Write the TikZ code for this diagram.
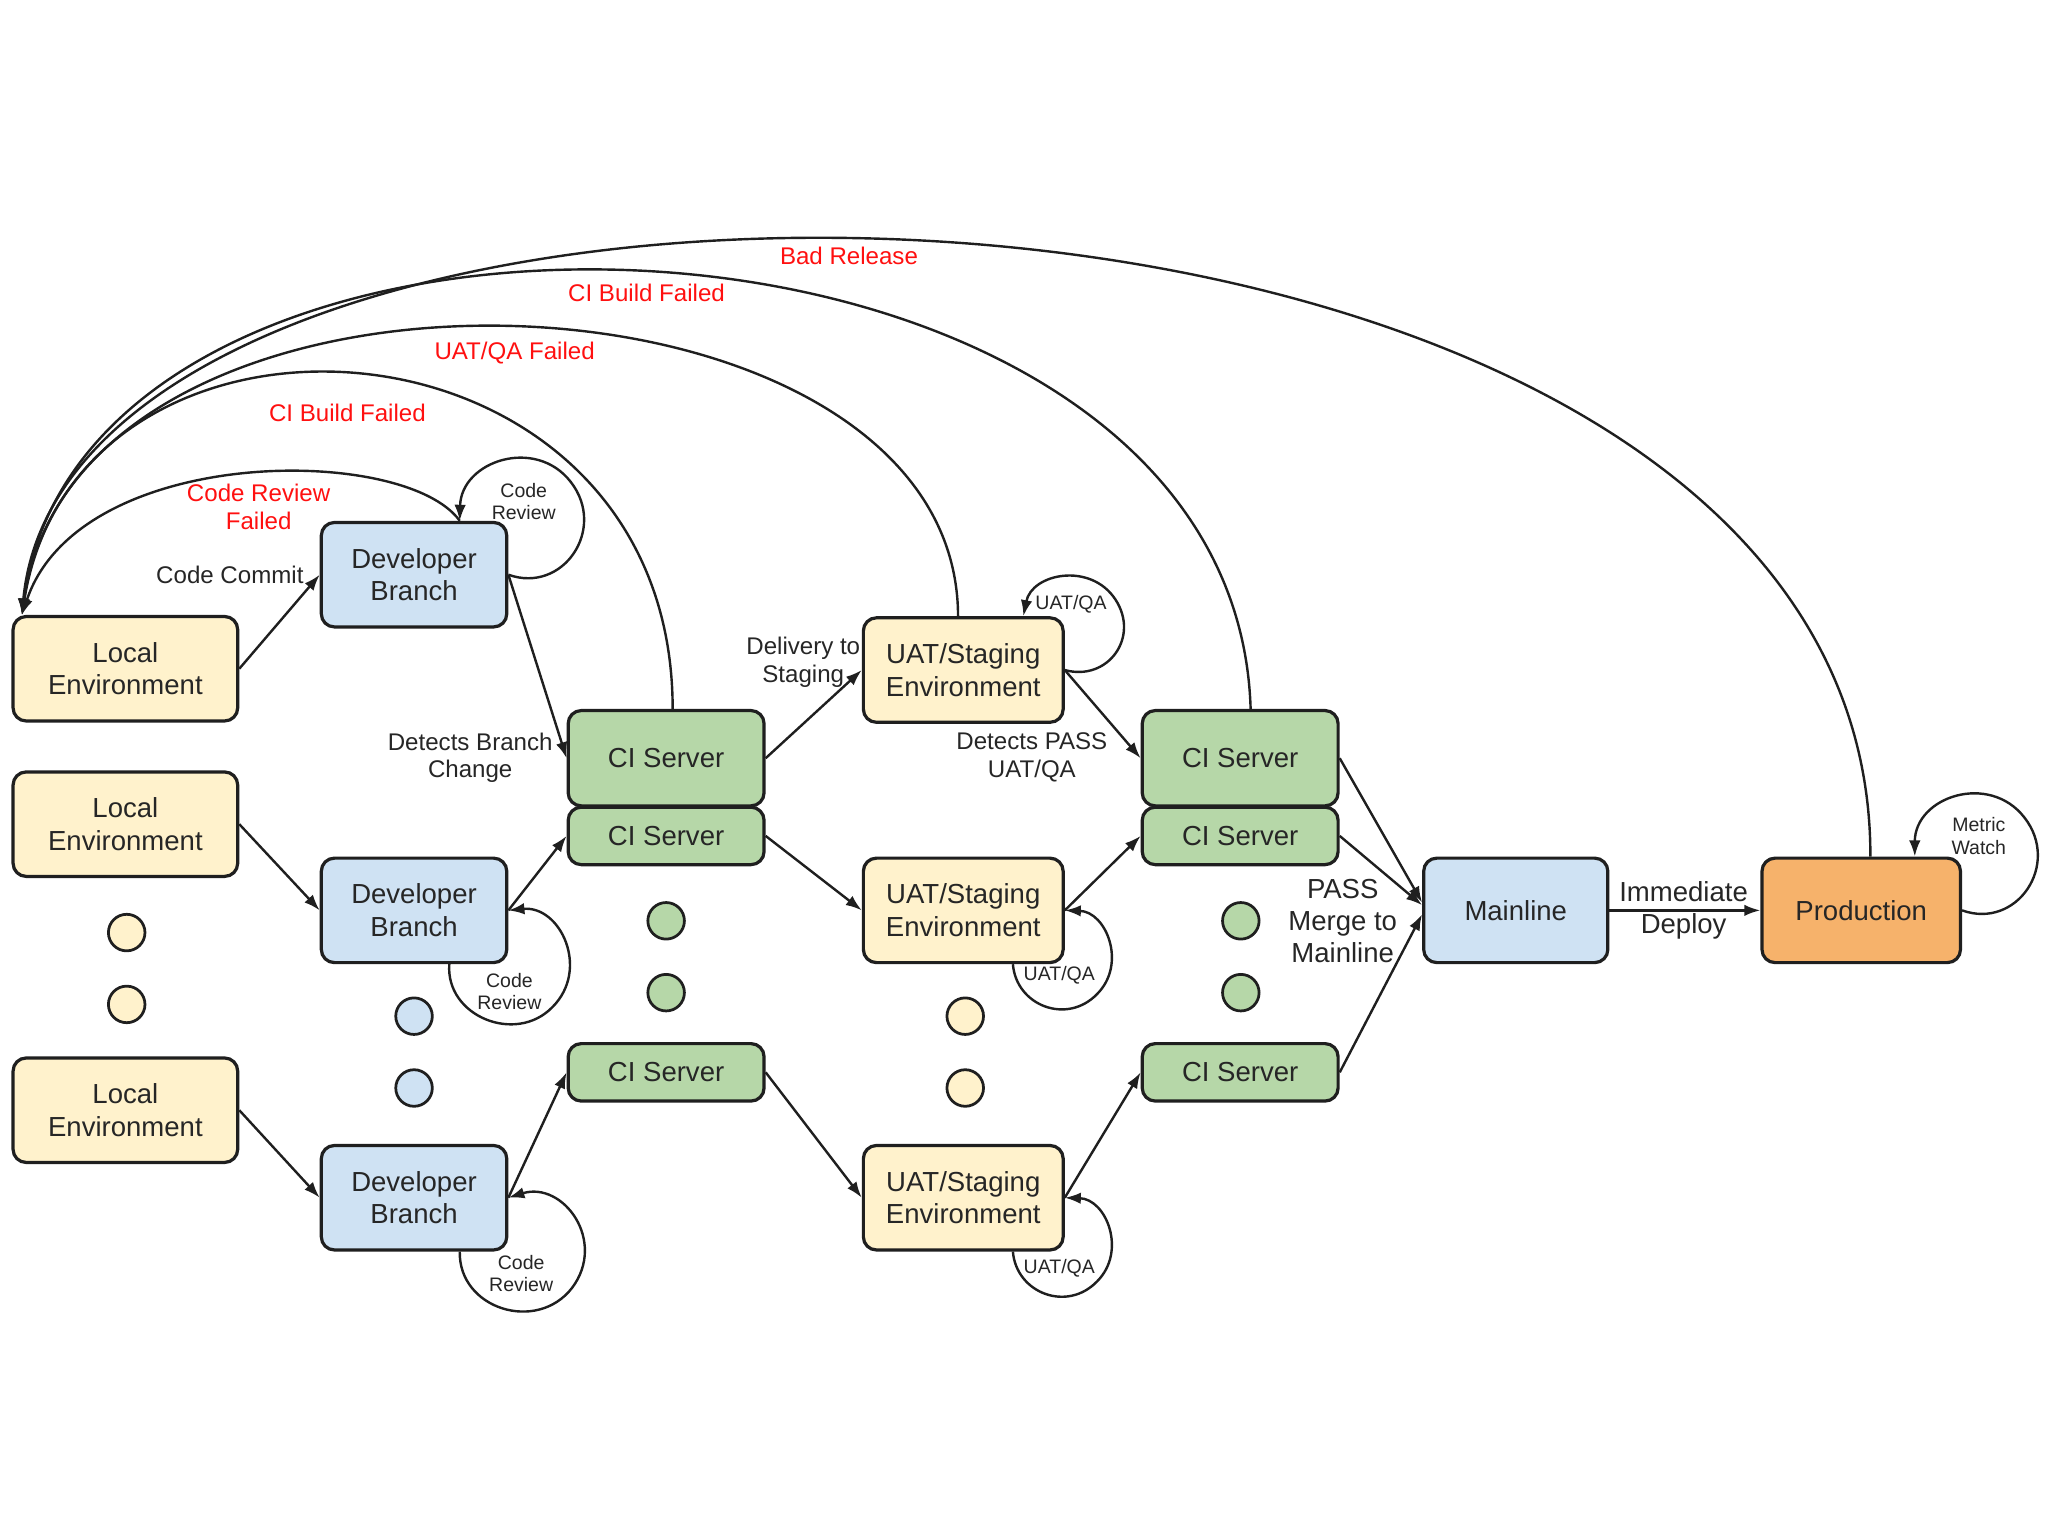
\documentclass[tikz,border=0pt]{standalone}
\usepackage{fontspec}
\setmainfont{Liberation Sans}
\usepackage{tikz}
\usetikzlibrary{arrows.meta,calc}
\definecolor{yelfill}{HTML}{FFF2CC}
\definecolor{bluefill}{HTML}{CFE2F3}
\definecolor{greenfill}{HTML}{B6D7A8}
\definecolor{orangefill}{HTML}{F6B26B}
\definecolor{linecol}{HTML}{1F1F1F}
\definecolor{txtcol}{HTML}{262626}
\definecolor{failred}{HTML}{FF1010}

\begin{document}
\begin{tikzpicture}[x=0.02cm,y=0.02cm,
    box/.style={draw=linecol,line width=1.4pt,rounded corners=0.2cm,align=center,
      text=txtcol,font=\fontsize{12}{14.2}\selectfont,inner sep=0pt},
    localenv/.style={box,fill=yelfill,minimum width=3.44cm,minimum height=1.6cm},
    devbranch/.style={box,fill=bluefill,minimum width=2.84cm,minimum height=1.6cm},
    cibig/.style={box,fill=greenfill,minimum width=3cm,minimum height=1.46cm},
    cismall/.style={box,fill=greenfill,minimum width=3cm,minimum height=0.88cm},
    uatenv/.style={box,fill=yelfill,minimum width=3.06cm,minimum height=1.6cm},
    dot/.style={circle,draw=linecol,line width=1.2pt,minimum size=0.56cm,inner sep=0pt},
    lbl/.style={align=center,text=txtcol,font=\fontsize{10.5}{12}\selectfont,inner sep=0pt},
    biglbl/.style={align=center,text=txtcol,font=\fontsize{12}{14}\selectfont,inner sep=0pt},
    faillbl/.style={align=center,text=failred,font=\fontsize{10.5}{12}\selectfont,inner sep=0pt},
    looplbl/.style={align=center,text=txtcol,font=\fontsize{8.5}{9.7}\selectfont,inner sep=0pt},
    arr/.style={draw=linecol,line width=1.05pt,-{Latex[length=7pt,width=5pt]}}]
  \useasboundingbox (0,0) rectangle (1568,-1176);

  %local environments
  \node[localenv] (le1) at (96,-512) {Local\\Environment};
  \node[localenv] (le2) at (96,-631) {Local\\Environment};
  \node[localenv] (le3) at (96,-850) {Local\\Environment};

  %developer branches
  \node[devbranch] (db1) at (317,-440) {Developer\\Branch};
  \node[devbranch] (db2) at (317,-697) {Developer\\Branch};
  \node[devbranch] (db3) at (317,-917) {Developer\\Branch};

  %first ci servers
  \node[cibig] (ci1a) at (510,-580.5) {CI Server};
  \node[cismall] (ci1b) at (510,-640) {CI Server};
  \node[cismall] (ci1c) at (510,-821) {CI Server};

  %staging
  \node[uatenv] (uat1) at (737.5,-513) {UAT/Staging\\Environment};
  \node[uatenv] (uat2) at (737.5,-697) {UAT/Staging\\Environment};
  \node[uatenv] (uat3) at (737.5,-917) {UAT/Staging\\Environment};

  %second ci servers
  \node[cibig] (ci2a) at (949.5,-580.5) {CI Server};
  \node[cismall] (ci2b) at (949.5,-640) {CI Server};
  \node[cismall] (ci2c) at (949.5,-821) {CI Server};

  %mainline and production
  \node[box,fill=bluefill,minimum width=2.82cm,minimum height=1.6cm] (ml) at (1160.5,-697) {Mainline};
  \node[box,fill=orangefill,minimum width=3.04cm,minimum height=1.6cm] (prod) at (1425,-697) {Production};

  %dots
  \node[dot,fill=yelfill] (ledot1) at (97,-714) {};
  \node[dot,fill=yelfill] (ledot2) at (97,-769) {};
  \node[dot,fill=bluefill] (dbdot1) at (317,-778) {};
  \node[dot,fill=bluefill] (dbdot2) at (317,-833) {};
  \node[dot,fill=greenfill] (cidot1) at (510,-705) {};
  \node[dot,fill=greenfill] (cidot2) at (510,-760) {};
  \node[dot,fill=yelfill] (uatdot1) at (739,-778) {};
  \node[dot,fill=yelfill] (uatdot2) at (739,-833) {};
  \node[dot,fill=greenfill] (ci2dot1) at (950,-705) {};
  \node[dot,fill=greenfill] (ci2dot2) at (950,-760) {};

  %forward arrows
  \draw[arr] (le1.east) -- (db1.west);
  \draw[arr] (le2.east) -- (db2.west);
  \draw[arr] (le3.east) -- (db3.west);
  \draw[arr] (db1.east) -- (ci1a.west);
  \draw[arr] (db2.east) -- (ci1b.west);
  \draw[arr] (db3.east) -- (ci1c.west);
  \draw[arr] (ci1a.east) -- (uat1.west);
  \draw[arr] (ci1b.east) -- (uat2.west);
  \draw[arr] (ci1c.east) -- (uat3.west);
  \draw[arr] (uat1.east) -- (ci2a.west);
  \draw[arr] (uat2.east) -- (ci2b.west);
  \draw[arr] (uat3.east) -- (ci2c.west);
  \draw[arr] (ci2a.east) -- ($(ml.west)+(0,6)$);
  \draw[arr] (ci2b.east) -- ($(ml.west)+(0,4)$);
  \draw[arr] (ci2c.east) -- ($(ml.west)+(0,-3)$);
  \draw[arr] (ml.east) -- (prod.west);

  %labels
  \node[lbl] (lcommit) at (176,-440) {Code Commit};
  \node[lbl] (ldetect) at (360,-580) {Detects Branch\\Change};
  \node[lbl] (ldeliv) at (615,-507) {Delivery to\\Staging};
  \node[lbl] (lpass) at (790,-580) {Detects PASS\\UAT/QA};
  \node[biglbl] (lmerge) at (1028,-705) {PASS\\Merge to\\Mainline};
  \node[biglbl] (ldeploy) at (1289,-697) {Immediate\\Deploy};

  %self loops
  \draw[arr] (db1.east) .. controls (431,-455) and (465,-405) .. (437,-369)
    .. controls (410,-334) and (353,-353) .. ($(db1.north)+(35,0)$);
  \draw[arr] ($(db2.south)+(27,0)$) .. controls (341,-778) and (395,-800) .. (423,-771)
    .. controls (452,-742) and (429,-693) .. (db2.east);
  \draw[arr] ($(db3.south)+(35,0)$) .. controls (351,-1002) and (411,-1021) .. (438,-986)
    .. controls (465,-950) and (431,-904) .. (db3.east);
  \draw[arr] (uat1.east) .. controls (848,-522) and (873,-488) .. (854,-459)
    .. controls (835,-430) and (790,-439) .. ($(uat1.north)+(46,0)$);
  \draw[arr] ($(uat2.south)+(38,0)$) .. controls (778,-770) and (817,-785) .. (840,-761)
    .. controls (863,-738) and (847,-698) .. (uat2.east);
  \draw[arr] ($(uat3.south)+(38,0)$) .. controls (778,-990) and (817,-1005) .. (840,-981)
    .. controls (863,-958) and (847,-918) .. (uat3.east);
  \draw[arr] (prod.east) .. controls (1544,-712) and (1578,-662) .. (1550,-626)
    .. controls (1523,-591) and (1466,-610) .. ($(prod.north)+(41,0)$);
  \node[looplbl] (lrev1) at (401,-384) {Code\\Review};
  \node[looplbl] (lrev2) at (390,-759) {Code\\Review};
  \node[looplbl] (lrev3) at (399,-975) {Code\\Review};
  \node[looplbl] (lqa1) at (820,-463) {UAT/QA};
  \node[looplbl] (lqa2) at (811,-747) {UAT/QA};
  \node[looplbl] (lqa3) at (811,-971) {UAT/QA};
  \node[looplbl] (lwatch) at (1515,-640) {Metric\\Watch};

  %failures back to local environment
  \draw[arr] ($(db1.north)+(35,0)$) .. controls (310,-340) and (60,-340) .. ($(le1.north west)+(8,0)$);
  \draw[arr] ($(ci1a.north)+(5,0)$) .. controls (515,-230) and (60,-200) .. ($(le1.north west)+(8,0)$);
  \draw[arr] ($(uat1.north)+(-4,0)$) .. controls (733,-190) and (60,-165) .. ($(le1.north west)+(8,0)$);
  \draw[arr] ($(ci2a.north)+(8,0)$) .. controls (945,-125) and (65,-95) .. ($(le1.north west)+(8,0)$);
  \draw[arr] ($(prod.north)+(7,0)$) .. controls (1433,-70) and (55,-55) .. ($(le1.north west)+(8,0)$);
  \node[faillbl] (lcrf) at (198,-388) {Code Review\\Failed};
  \node[faillbl] (lci1) at (266,-316) {CI Build Failed};
  \node[faillbl] (luat) at (394,-270) {UAT/QA Failed};
  \node[faillbl] (lci2) at (495,-224) {CI Build Failed};
  \node[faillbl] (lbad) at (650,-196) {Bad Release};
\end{tikzpicture}
\end{document}
